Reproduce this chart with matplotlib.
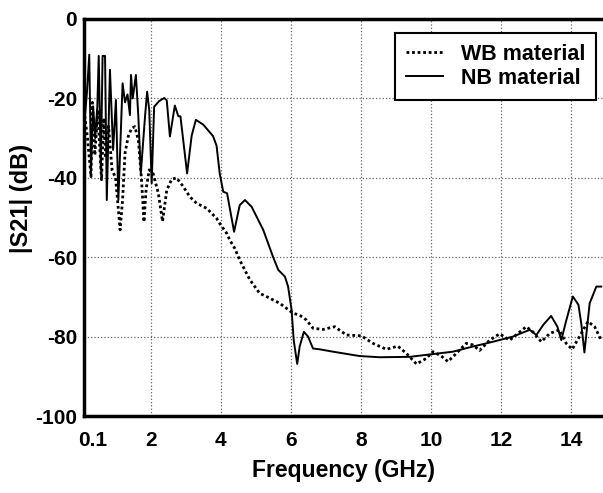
import matplotlib.pyplot as plt
import matplotlib.transforms as mtransforms

plt.rcParams['font.family'] = ['Liberation Sans', 'DejaVu Sans']
plt.rcParams['font.weight'] = 'bold'
plt.rcParams['axes.unicode_minus'] = False

# NB material (solid)
nb_freq = [0.1, 0.18, 0.25, 0.3, 0.36, 0.42, 0.48, 0.52, 0.58, 0.63, 0.7, 0.75,
           0.84, 0.93, 1.01, 1.08, 1.2, 1.27, 1.34, 1.41, 1.44, 1.49, 1.58, 1.65,
           1.72, 1.84, 1.9, 1.96, 2.03, 2.1, 2.17, 2.24, 2.31, 2.39, 2.46, 2.55,
           2.69, 2.79, 2.85, 3.04, 3.17, 3.29, 3.5, 3.78, 3.88, 3.97, 4.07, 4.18,
           4.38, 4.54, 4.69, 4.88, 5.21, 5.49, 5.64, 5.83, 5.92, 6.02, 6.08, 6.18,
           6.25, 6.37, 6.49, 6.63, 6.82, 7.2, 7.96, 8.53, 9.39, 10.05, 10.62, 11.19,
           11.76, 12.33, 12.81, 13.0, 13.2, 13.42, 13.6, 13.71, 13.85, 14.04, 14.2,
           14.28, 14.37, 14.52, 14.71, 14.85]
nb_s21 = [-27, -19, -9, -38, -22, -30, -22, -9.3, -38, -9.3, -9.3, -45.6,
          -12.8, -33, -20.4, -45.6, -16.2, -21, -19, -24.2, -14.1, -20, -14.1, -24.6,
          -38.9, -24.6, -18.3, -22.9, -41.4, -22.1, -21.4, -20.7, -20.3, -19.9, -20.5, -29.6,
          -21.8, -24.5, -24.5, -38.9, -29.4, -25.4, -26.6, -29.5, -31.9, -38.9, -43.5, -43.9,
          -53.6, -46.9, -45.6, -47.3, -53.1, -59.9, -63.2, -64.9, -67.4, -73.3, -80.9, -86.9,
          -82.5, -78.8, -80, -83, -83.2, -83.8, -84.9, -85.2, -85.1, -84.4, -83.8, -82.5,
          -81.3, -80, -78.3, -79.6, -77, -74.8, -77.5, -80.9, -76, -69.9, -72,
          -76.7, -84, -71.6, -67.4, -67.4]

# WB material (dotted)
wb_freq = [0.1, 0.2, 0.3, 0.34, 0.41, 0.49, 0.6, 0.66, 0.72, 0.8, 0.9, 1.0,
           1.13, 1.2, 1.27, 1.36, 1.46, 1.55, 1.65, 1.74, 1.81, 1.87, 1.96, 2.07,
           2.22, 2.34, 2.46, 2.6, 2.74, 2.93, 3.12, 3.31, 3.6, 3.88, 3.97, 4.17,
           4.26, 4.4, 4.54, 4.83, 5.11, 5.3, 5.68, 6.06, 6.25, 6.44, 6.63, 6.92,
           7.25, 7.58, 8.01, 8.34, 8.72, 9.05, 9.29, 9.58, 9.86, 10.05, 10.29, 10.48,
           10.72, 11.0, 11.19, 11.38, 11.67, 11.95, 12.24, 12.71, 12.9, 13.14, 13.38, 13.66,
           13.85, 14.02, 14.23, 14.47, 14.66, 14.85]
wb_s21 = [-23, -30, -39.7, -21, -34.3, -23, -40.5, -25, -35, -27, -38, -40,
          -53.1, -45.6, -33.8, -29.6, -27.5, -27.1, -30.5, -40.5, -51.1, -43, -38, -38.9,
          -43.9, -51, -43.1, -40.4, -40, -42.2, -44.8, -46.4, -47.7, -50.2, -51.5, -54,
          -55.7, -57.8, -60.7, -65.7, -69.1, -69.9, -71.6, -74.1, -74.6, -75.8, -77.9, -78.2,
          -77.5, -79.6, -79.8, -81.7, -83.2, -82.4, -84.2, -86.9, -85.5, -83.8, -84.9, -86.3,
          -84.2, -81.7, -82.1, -83.5, -80.9, -79.3, -80.9, -77.5, -78.8, -81.3, -79.2, -78.3,
          -81.7, -83.2, -80, -76.2, -77.5, -80.9]

xticks = [0.1, 2, 4, 6, 8, 10, 12, 14]
xtick_labels = ['0.1', '2', '4', '6', '8', '10', '12', '14']
yticks = [-100, -80, -60, -40, -20, 0]

fig = plt.figure(figsize=(6.03, 4.93), dpi=100)
ax = fig.add_axes([84 / 603, 1 - 416 / 493, 1 - 84 / 603, (416 - 19) / 493])

ax.plot(wb_freq, wb_s21, color='black', linewidth=2.0, linestyle=(0, (1, 1)), label='WB material')
ax.plot(nb_freq, nb_s21, color='black', linewidth=1.4, label='NB material')

ax.set_xlim(0.1, 14.9)
ax.set_ylim(-100, 0)
ax.set_xticks(xticks)
ax.set_xticklabels(xtick_labels)
ax.set_yticks(yticks)
ax.tick_params(length=0, labelsize=15)
ax.tick_params(axis='x', pad=11)
ax.tick_params(axis='y', pad=5)

# first x label sits a bit to the right of the axis
first = ax.get_xticklabels()[0]
first.set_transform(first.get_transform() + mtransforms.ScaledTranslation(9 / 100, 0, fig.dpi_scale_trans))

ax.grid(True, color='#666666', linestyle=':', linewidth=0.9)
for side in ['left', 'bottom', 'top']:
    ax.spines[side].set_linewidth(2.5)
ax.spines['right'].set_visible(False)

ax.set_xlabel('Frequency (GHz)', fontsize=16.5, fontweight='bold', labelpad=6)
ax.set_ylabel('|S21| (dB)', fontsize=17, fontweight='bold')
ax.yaxis.set_label_coords(-0.098, 0.547)

leg = ax.legend(loc='upper right', bbox_to_anchor=(0.9865, 0.9647), fontsize=15.5,
                frameon=True, fancybox=False, edgecolor='black', framealpha=1,
                handlelength=1.7, handletextpad=0.85, borderpad=0.5, labelspacing=0.15,
                borderaxespad=0)
leg.get_frame().set_linewidth(1.5)

fig.savefig('out.png', dpi=100)
